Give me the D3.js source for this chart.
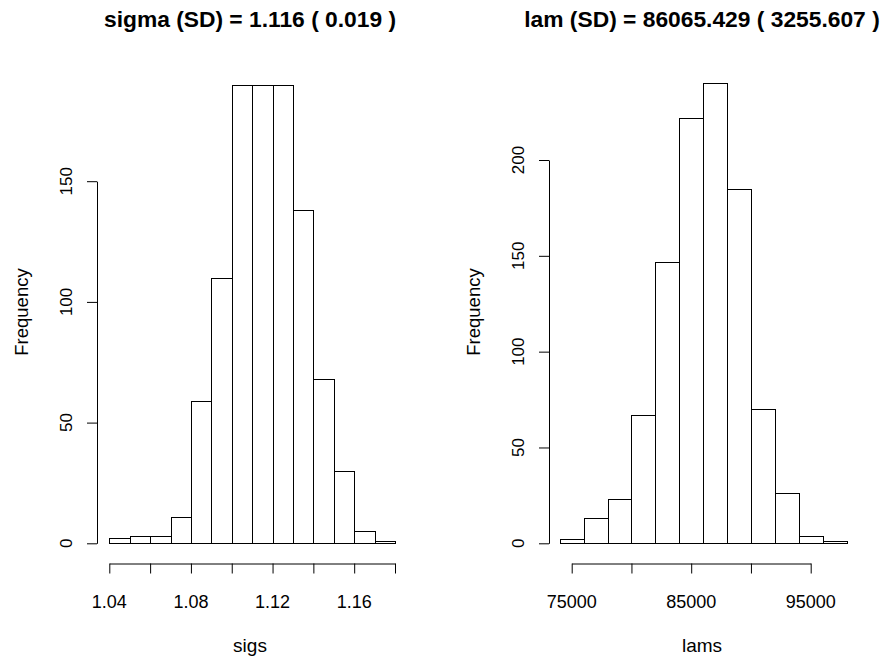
<!DOCTYPE html>
<html>
<head>
<meta charset="utf-8">
<script src="https://cdn.jsdelivr.net/npm/d3@7/dist/d3.min.js"></script>
<style>
  html, body { margin: 0; padding: 0; background: #fff; }
  svg { display: block; }
  text { font-family: "Liberation Sans", Arial, Helvetica, sans-serif; fill: #000; }
</style>
</head>
<body>
<svg id="chart" width="885" height="661"></svg>
<script>
// ---- data ----
const sigBreaks = [1.04, 1.05, 1.06, 1.07, 1.08, 1.09, 1.10, 1.11, 1.12, 1.13, 1.14, 1.15, 1.16, 1.17, 1.18];
const sigCounts = [2, 3, 3, 11, 59, 110, 190, 190, 190, 138, 68, 30, 5, 1];
const sigXTicks = [1.04, 1.06, 1.08, 1.10, 1.12, 1.14, 1.16, 1.18];
const sigXLabels = [1.04, 1.08, 1.12, 1.16];
const sigYTicks = [0, 50, 100, 150];

const lamBreaks = [74000, 76000, 78000, 80000, 82000, 84000, 86000, 88000, 90000, 92000, 94000, 96000, 98000];
const lamCounts = [2, 13, 23, 67, 147, 222, 240, 185, 70, 26, 4, 1];
const lamXTicks = [75000, 80000, 85000, 90000, 95000];
const lamXLabels = [75000, 85000, 95000];
const lamYTicks = [0, 50, 100, 150, 200];

const titles = ["sigma (SD) = 1.116 ( 0.019 )", "lam (SD) = 86065.429 ( 3255.607 )"];
const xLabels = ["sigs", "lams"];
const yLabel = "Frequency";

const svg = d3.select("#chart");

function panel(opt) {
  const g = svg.append("g");
  const x = d3.scaleLinear().domain(opt.xDomain).range(opt.xRange);
  const y = d3.scaleLinear().domain(opt.yDomain).range([543.3, opt.yTop]);

  // bars
  const bins = opt.counts.map((c, i) => ({ x0: opt.breaks[i], x1: opt.breaks[i + 1], c }));
  g.selectAll("rect.bar").data(bins).enter().append("rect")
    .attr("class", "bar")
    .attr("x", d => Math.round(x(d.x0)) + 0.5)
    .attr("width", d => Math.round(x(d.x1)) - Math.round(x(d.x0)))
    .attr("y", d => Math.round(y(d.c)) + 0.5)
    .attr("height", d => Math.round(y(0)) - Math.round(y(d.c)))
    .attr("fill", "#fff")
    .attr("stroke", "#000")
    .attr("stroke-width", 1);

  // x axis
  const xa = g.append("g").attr("transform", "translate(0,563.5)")
    .call(d3.axisBottom(x).tickValues(opt.xTicks).tickSize(10).tickSizeOuter(0).tickFormat(""));
  xa.selectAll("path,line").attr("stroke", "#000");
  g.selectAll("text.xt").data(opt.xLabelVals).enter().append("text")
    .attr("class", "xt")
    .attr("x", d => x(d)).attr("y", 608)
    .attr("text-anchor", "middle")
    .style("font-size", "18px")
    .text(d => opt.fmt(d));

  // y axis
  const ya = g.append("g").attr("transform", `translate(${opt.yAxisX},0)`)
    .call(d3.axisLeft(y).tickValues(opt.yTicks).tickSize(10).tickSizeOuter(0).tickFormat(""));
  ya.selectAll("path,line").attr("stroke", "#000");
  g.selectAll("text.yt").data(opt.yTicks).enter().append("text")
    .attr("class", "yt")
    .attr("transform", d => `translate(${opt.yAxisX - 25},${y(d)}) rotate(-90)`)
    .attr("text-anchor", "middle")
    .style("font-size", "17px")
    .text(d => d);

  // labels
  g.append("text")
    .attr("transform", `translate(${opt.yAxisX - 69},${opt.yLabelY}) rotate(-90)`)
    .attr("text-anchor", "middle")
    .style("font-size", "18.5px")
    .text(yLabel);
  g.append("text")
    .attr("x", opt.center).attr("y", 652)
    .attr("text-anchor", "middle")
    .style("font-size", "19px")
    .text(opt.xLabel);
  g.append("text")
    .attr("x", opt.center).attr("y", 27)
    .attr("text-anchor", "middle")
    .style("font-size", "22.8px")
    .style("font-weight", "bold")
    .text(opt.title);
}

panel({
  breaks: sigBreaks, counts: sigCounts,
  xDomain: [1.04, 1.18], xRange: [109.3, 395],
  yDomain: [0, 150], yTop: 181.2,
  xTicks: sigXTicks, xLabelVals: sigXLabels, yTicks: sigYTicks,
  fmt: d3.format(".2f"),
  yAxisX: 97, yLabelY: 312, center: 250,
  xLabel: xLabels[0], title: titles[0]
});

panel({
  breaks: lamBreaks, counts: lamCounts,
  xDomain: [75000, 95000], xRange: [571.7, 810.7],
  yDomain: [0, 200], yTop: 160,
  xTicks: lamXTicks, xLabelVals: lamXLabels, yTicks: lamYTicks,
  fmt: d => String(d),
  yAxisX: 549, yLabelY: 312, center: 702,
  xLabel: xLabels[1], title: titles[1]
});
</script>
</body>
</html>
